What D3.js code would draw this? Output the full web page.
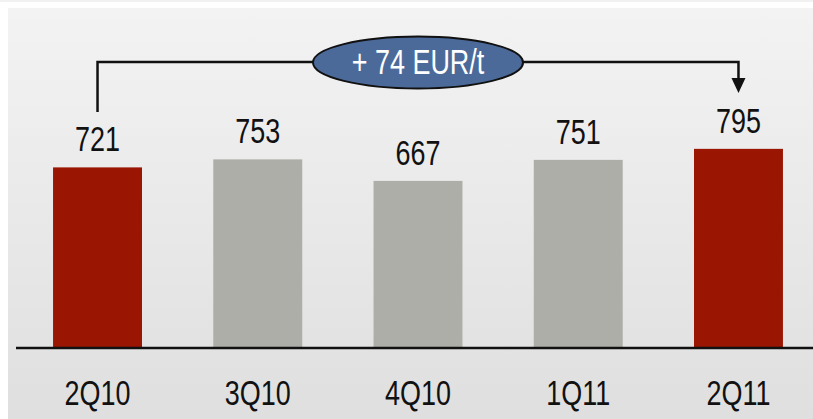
<!DOCTYPE html>
<html>
<head>
<meta charset="utf-8">
<script src="https://cdn.jsdelivr.net/npm/d3@7"></script>
<style>
  body { margin: 0; background: #ffffff; }
  svg { display: block; }
</style>
</head>
<body>
<svg id="mainSvg" width="813" height="419"></svg>
<script>
// chart data
var quarters = ["2Q10", "3Q10", "4Q10", "1Q11", "2Q11"];
var prices = [721, 753, 667, 751, 795];
var highlighted = ["2Q10", "2Q11"];
var deltaLabel = "+ 74 EUR/t";

var W = 813, H = 419;
var baseY = 348;
var labelFont = "'Liberation Sans', Arial, sans-serif";
var squeeze = 0.77; // the original uses a condensed face

var svg = d3.select("#mainSvg");

var defs = svg.append("defs");
var grad = defs.append("linearGradient")
    .attr("id", "bgGrad")
    .attr("x1", 0).attr("y1", 0).attr("x2", 0).attr("y2", 1);
grad.append("stop").attr("offset", "0%").attr("stop-color", "#f3f3f3");
grad.append("stop").attr("offset", "100%").attr("stop-color", "#dfdfdf");

// thin strip at the very top
svg.append("rect")
    .attr("x", 0).attr("y", 0)
    .attr("width", W).attr("height", 2)
    .attr("fill", "#f1f1f1");

// panel background
svg.append("rect")
    .attr("x", 8).attr("y", 8)
    .attr("width", W - 8).attr("height", H - 8)
    .attr("fill", "url(#bgGrad)");

var x = d3.scaleBand()
    .domain(quarters)
    .range([17, 819])
    .paddingInner(0.445)
    .paddingOuter(0.225);

var y = d3.scaleLinear()
    .domain([0, 1000])
    .range([baseY, 97.5]);

var barColor = function(d){
    return highlighted.indexOf(d) >= 0 ? "#9a1502" : "#adaea8";
};

var data = quarters.map(function(q, i){ return {q: q, v: prices[i]}; });

svg.selectAll(".bar")
    .data(data)
    .enter()
    .append("rect")
    .attr("class", "bar")
    .attr("x", function(d){ return x(d.q); })
    .attr("y", function(d){ return y(d.v); })
    .attr("width", x.bandwidth())
    .attr("height", function(d){ return baseY - y(d.v); })
    .attr("fill", function(d){ return barColor(d.q); });

// value labels
svg.selectAll(".valLabel")
    .data(data)
    .enter()
    .append("text")
    .attr("class", "valLabel")
    .attr("transform", function(d){
        return "translate(" + (x(d.q) + x.bandwidth() / 2) + "," + (y(d.v) - 16) + ") scale(" + squeeze + ",1)";
    })
    .attr("text-anchor", "middle")
    .attr("font-family", labelFont)
    .attr("font-size", "35px")
    .attr("fill", "#111")
    .text(function(d){ return d.v; });

// baseline axis
var xAxis = d3.axisBottom(x).tickSize(0).tickPadding(0);
var axisG = svg.append("g")
    .attr("transform", "translate(0," + baseY + ")")
    .call(xAxis);
axisG.select(".domain").remove();
axisG.append("line")
    .attr("x1", 16).attr("x2", W)
    .attr("y1", 0).attr("y2", 0)
    .attr("stroke", "#111")
    .attr("stroke-width", 2.5);
axisG.selectAll(".tick text")
    .attr("font-family", labelFont)
    .attr("font-size", "35px")
    .attr("fill", "#111")
    .attr("y", 57)
    .attr("dy", 0)
    .attr("transform", "scale(" + squeeze + ",1)");

// bracket from first to last quarter
var first = quarters[0], last = quarters[quarters.length - 1];
var x0 = x(first) + x.bandwidth() / 2;
var x1 = x(last) + x.bandwidth() / 2;
var bracketY = 62;
svg.append("path")
    .attr("d", "M" + x0 + "," + 112 + "V" + bracketY + "H" + x1 + "V" + 80)
    .attr("fill", "none")
    .attr("stroke", "#111")
    .attr("stroke-width", 2.5);
svg.append("path")
    .attr("d", "M" + (x1 - 7) + "," + 78 + "L" + (x1 + 7) + "," + 78 + "L" + x1 + "," + 93 + "Z")
    .attr("fill", "#111");

// ellipse with the change
var midX = x(quarters[2]) + x.bandwidth() / 2;
svg.append("ellipse")
    .attr("cx", midX).attr("cy", bracketY + 0.5)
    .attr("rx", 105).attr("ry", 26)
    .attr("fill", "#4b6a9a")
    .attr("stroke", "#111")
    .attr("stroke-width", 2);
svg.append("text")
    .attr("transform", "translate(" + midX + ",74) scale(" + squeeze + ",1)")
    .attr("text-anchor", "middle")
    .attr("font-family", labelFont)
    .attr("font-size", "35px")
    .attr("fill", "#ffffff")
    .text(deltaLabel);
</script>
</body>
</html>
